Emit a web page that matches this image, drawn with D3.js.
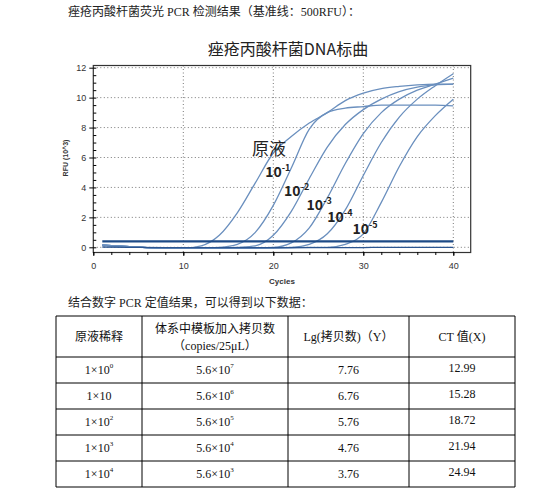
<!DOCTYPE html>
<html><head><meta charset="utf-8">
<script src="https://cdn.jsdelivr.net/npm/d3@7"></script>
<style>
body{margin:0;background:#fff;}
svg{font-family:"Liberation Serif","Noto Sans CJK SC",serif;}
</style></head><body>
<svg id="chart" width="550" height="493"></svg>
<script>
// curve readings, cycle -> RFU (10^3)
const cycles = [1, 4, 8, 10, 12, 14, 16, 18, 20, 22, 24, 26, 28, 30, 32, 34, 36, 38, 40];
const stock   = [0.15, 0.05, -0.05, -0.05, 0.1, 0.8, 2.3, 4.3, 6.3, 7.4, 8.3, 9.0, 9.8, 10.3, 10.6, 10.75, 10.85, 10.9, 10.9];
const dil1    = [0.15, 0.05, -0.05, -0.05, -0.05, 0, 0.2, 1.0, 2.8, 5.3, 7.9, 9.0, 9.3, 9.4, 9.5, 9.5, 9.5, 9.5, 9.45];
const dil2    = [0.15, 0.05, -0.05, -0.05, -0.05, -0.05, 0, 0.1, 0.8, 2.4, 4.6, 6.7, 8.2, 9.2, 9.9, 10.4, 10.7, 10.85, 10.9];
const dil3    = [0.15, 0.05, -0.05, -0.05, -0.05, -0.05, -0.05, -0.03, 0, 0.3, 1.3, 3.3, 5.6, 7.6, 9.0, 9.9, 10.5, 10.9, 11.3];
const dil4    = [0.15, 0.05, -0.05, -0.05, -0.05, -0.05, -0.05, -0.05, -0.03, 0, 0.2, 0.9, 2.5, 4.8, 7.0, 8.7, 9.9, 10.8, 11.6];
const dil5    = [0.15, 0.05, -0.05, -0.05, -0.05, -0.05, -0.05, -0.05, -0.05, -0.03, -0.01, 0, 0.2, 0.9, 3.0, 5.4, 7.4, 8.8, 9.9];
const negCtrl = [0.02, 0, -0.02, -0.02, -0.02, -0.02, -0.02, -0.02, -0.02, -0.02, -0.02, -0.02, -0.02, -0.02, 0, 0, 0, 0, 0];
const threshold = 0.4;

const curveLabels = [
  {main: "原液", sup: "", x: 19.3, y: 6.2},
  {main: "10", sup: "-1", x: 19.1, y: 4.7},
  {main: "10", sup: "-2", x: 21.2, y: 3.4},
  {main: "10", sup: "-3", x: 23.7, y: 2.5},
  {main: "10", sup: "-4", x: 26, y: 1.7},
  {main: "10", sup: "-5", x: 28.8, y: 0.9}
];

const headers = [["原液稀释"], ["体系中模板加入拷贝数", "（copies/25μL）"], ["Lg(拷贝数)（Y）"], ["CT 值(X)"]];
const dilutions = [["1×10", "0"], ["1×10", ""], ["1×10", "2"], ["1×10", "3"], ["1×10", "4"]];
const copies = [["5.6×10", "7"], ["5.6×10", "6"], ["5.6×10", "5"], ["5.6×10", "4"], ["5.6×10", "3"]];
const lgCopies = ["7.76", "6.76", "5.76", "4.76", "3.76"];
const ctValues = ["12.99", "15.28", "18.72", "21.94", "24.94"];

const svg = d3.select("#chart");

svg.append("text").attr("x", 68).attr("y", 16).attr("font-size", 12).attr("fill", "#222")
  .text("痤疮丙酸杆菌荧光 PCR 检测结果（基准线：500RFU）：");

svg.append("text").attr("x", 288).attr("y", 55).attr("text-anchor", "middle")
  .attr("font-size", 16).attr("font-family", "Noto Sans CJK SC, sans-serif").attr("fill", "#222")
  .text("痤疮丙酸杆菌DNA标曲");

const x = d3.scaleLinear().domain([0, 40]).range([93.3, 453.3]);
const y = d3.scaleLinear().domain([0, 12]).range([247.3, 67.7]);
const g = svg.append("g").attr("font-family", "Liberation Sans, Arial, sans-serif");

// grid
g.selectAll(".gx").data([10, 20, 30, 40]).enter().append("line")
  .attr("x1", d => x(d)).attr("x2", d => x(d)).attr("y1", 65.5).attr("y2", 252)
  .attr("stroke", "#777").attr("stroke-dasharray", "1,2.5");
g.selectAll(".gy").data([0, 2, 4, 6, 8, 10, 12]).enter().append("line")
  .attr("x1", 93.3).attr("x2", 470.5).attr("y1", d => y(d)).attr("y2", d => y(d))
  .attr("stroke", "#777").attr("stroke-dasharray", "1,2.5");

// frame
g.append("rect").attr("x", 93.3).attr("y", 65.5).attr("width", 377.4).attr("height", 187)
  .attr("fill", "none").attr("stroke", "#333").attr("stroke-width", 1.2);

const xAxis = d3.axisBottom(x).tickValues([0, 10, 20, 30, 40]).tickSize(4).tickSizeOuter(0);
const xa = g.append("g").attr("transform", "translate(0,252)").call(xAxis);
xa.select(".domain").remove();
xa.selectAll("text").attr("font-size", 9).attr("fill", "#333").attr("dy", "1.1em");
g.append("g").attr("transform", "translate(0,252)")
  .call(d3.axisBottom(x).ticks(20).tickSize(3).tickFormat("")).select(".domain").remove();

const yAxis = d3.axisLeft(y).tickValues([0, 2, 4, 6, 8, 10, 12]).tickSize(4);
const ya = g.append("g").attr("transform", "translate(93.3,0)").call(yAxis);
ya.select(".domain").remove();
ya.selectAll("text").attr("font-size", 9).attr("fill", "#333");
g.append("g").attr("transform", "translate(93.3,0)")
  .call(d3.axisLeft(y).ticks(24).tickSize(-3).tickFormat("")).select(".domain").remove();

g.append("text").attr("x", 282).attr("y", 284).attr("text-anchor", "middle")
  .attr("font-size", 8).attr("font-weight", "bold").attr("fill", "#333").text("Cycles");
g.append("text").attr("transform", "translate(68,158) rotate(-90)").attr("text-anchor", "middle")
  .attr("font-size", 7).attr("font-weight", "bold").attr("fill", "#333").text("RFU (10^3)");

// curves
const line = d3.line().x((d, i) => x(cycles[i])).y(d => y(d)).curve(d3.curveMonotoneX);
[stock, dil1, dil2, dil3, dil4, dil5].forEach(s => {
  g.append("path").attr("d", line(s)).attr("fill", "none")
    .attr("stroke", "#6a8fbe").attr("stroke-width", 1.3);
});
g.append("path").attr("d", line(negCtrl)).attr("fill", "none")
  .attr("stroke", "#2b5590").attr("stroke-width", 1.3);
g.append("line").attr("x1", x(1)).attr("x2", x(40)).attr("y1", y(threshold)).attr("y2", y(threshold))
  .attr("stroke", "#1d4a86").attr("stroke-width", 2.2);

// curve labels
curveLabels.forEach(l => {
  const t = g.append("text").attr("x", x(l.x)).attr("y", y(l.y)).attr("fill", "#222")
    .attr("font-family", "Noto Sans CJK SC, sans-serif");
  if (l.sup === "") {
    t.attr("font-size", 17).attr("x", x(l.x) - 15).text(l.main);
  } else {
    t.attr("font-size", 14).attr("font-weight", "bold").text(l.main);
    t.append("tspan").attr("font-size", 9).attr("dy", -6).text(l.sup);
  }
});

// table
svg.append("text").attr("x", 68).attr("y", 307).attr("font-size", 12).attr("fill", "#222")
  .text("结合数字 PCR 定值结果，可以得到以下数据：");

const colX = [56, 142, 288, 409, 515];
const rowY = [316, 357, 383, 409, 435, 461, 487];
const tb = svg.append("g").attr("font-size", 12).attr("fill", "#111");
rowY.forEach(v => tb.append("line").attr("x1", colX[0]).attr("x2", colX[4]).attr("y1", v).attr("y2", v).attr("stroke", "#000"));
colX.forEach(v => tb.append("line").attr("x1", v).attr("x2", v).attr("y1", rowY[0]).attr("y2", rowY[6]).attr("stroke", "#000"));
const cx = i => (colX[i] + colX[i + 1]) / 2;

headers.forEach((h, i) => {
  h.forEach((s, j) => {
    tb.append("text").attr("x", cx(i)).attr("text-anchor", "middle")
      .attr("y", h.length === 1 ? 341 : 333 + j * 17).text(s);
  });
});

function supCell(col, row, pair) {
  const t = tb.append("text").attr("x", cx(col)).attr("y", rowY[row + 1] + 17).attr("text-anchor", "middle");
  t.append("tspan").text(pair[0]);
  if (pair[1]) t.append("tspan").attr("font-size", 7).attr("dy", -6).text(pair[1]);
}
dilutions.forEach((d, i) => supCell(0, i, d));
copies.forEach((d, i) => supCell(1, i, d));
lgCopies.forEach((d, i) => tb.append("text").attr("x", cx(2)).attr("y", rowY[i + 1] + 17).attr("text-anchor", "middle").text(d));
ctValues.forEach((d, i) => tb.append("text").attr("x", cx(3)).attr("y", rowY[i + 1] + 15).attr("text-anchor", "middle").text(d));
</script>
</body></html>
